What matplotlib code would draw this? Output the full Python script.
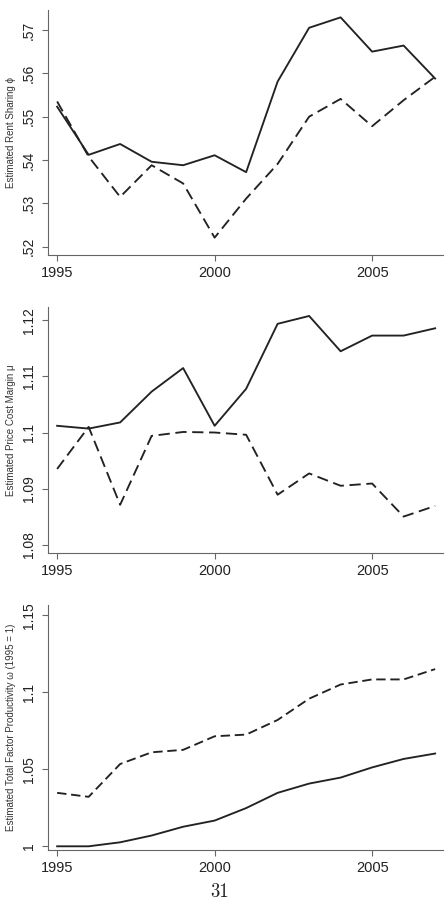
import matplotlib
matplotlib.use("Agg")
import matplotlib.pyplot as plt

years = list(range(1995, 2008))

rent_solid = [0.5523, 0.5412, 0.5437, 0.5396, 0.5388, 0.5411, 0.5372, 0.5581, 0.5705, 0.5729, 0.5650, 0.5664, 0.5588]
rent_dashed = [0.5535, 0.5408, 0.5315, 0.5388, 0.5346, 0.5221, 0.5311, 0.5391, 0.5500, 0.5541, 0.5478, 0.5538, 0.5592]

pcm_solid = [1.1012, 1.1007, 1.1018, 1.1073, 1.1115, 1.1012, 1.1078, 1.1194, 1.1208, 1.1145, 1.1173, 1.1173, 1.1186]
pcm_dashed = [1.0935, 1.1010, 1.0871, 1.0994, 1.1001, 1.1000, 1.0996, 1.0889, 1.0927, 1.0905, 1.0909, 1.0850, 1.0869]

tfp_solid = [1.0000, 1.0000, 1.0026, 1.0070, 1.0127, 1.0167, 1.0248, 1.0347, 1.0407, 1.0446, 1.0512, 1.0567, 1.0602]
tfp_dashed = [1.0347, 1.0321, 1.0534, 1.0610, 1.0626, 1.0714, 1.0725, 1.0820, 1.0958, 1.1050, 1.1083, 1.1083, 1.1150]

xticks = [1995, 2000, 2005]
rent_ticks = [0.52, 0.53, 0.54, 0.55, 0.56, 0.57]
rent_labels = [".52", ".53", ".54", ".55", ".56", ".57"]
pcm_ticks = [1.08, 1.09, 1.10, 1.11, 1.12]
pcm_labels = ["1.08", "1.09", "1.1", "1.11", "1.12"]
tfp_ticks = [1.0, 1.05, 1.10, 1.15]
tfp_labels = ["1", "1.05", "1.1", "1.15"]

ylabels = ["Estimated Rent Sharing \u03d5",
           "Estimated Price Cost Margin \u03bc",
           "Estimated Total Factor Productivity \u03c9 (1995 = 1)"]

plt.rcParams['font.family'] = ['Liberation Sans', 'DejaVu Sans']

W, H = 448, 907
fig = plt.figure(figsize=(W / 100, H / 100), dpi=100)
fig.patch.set_facecolor("white")

def pos(top, bottom, left=48, right=443):
    return [left / W, 1 - bottom / H, (right - left) / W, (bottom - top) / H]

panels = [
    (pos(10, 255), rent_solid, rent_dashed, rent_ticks, rent_labels, (0.5181, 0.5746), ylabels[0], (6, 3)),
    (pos(307, 553), pcm_solid, pcm_dashed, pcm_ticks, pcm_labels, (1.0785, 1.1224), ylabels[1], (6, 3)),
    (pos(605, 850), tfp_solid, tfp_dashed, tfp_ticks, tfp_labels, (0.9976, 1.1566), ylabels[2], (5, 2.5)),
]

for rect, s, d, yt, yl, ylim, lab, dash in panels:
    ax = fig.add_axes(rect)
    ax.plot(years, s, color="#222222", lw=1.35)
    ax.plot(years, d, color="#222222", lw=1.35, dashes=dash)
    ax.set_xlim(1994.71, 2007.25)
    ax.set_ylim(*ylim)
    ax.set_xticks(xticks)
    ax.set_xticklabels([str(x) for x in xticks], fontsize=10.5, color="#222222")
    ax.set_yticks(yt)
    ax.set_yticklabels(yl, fontsize=10, color="#222222", rotation=90, va="center")
    ax.set_ylabel(lab, fontsize=7, color="#333333", labelpad=4)
    for sp in ["top", "right"]:
        ax.spines[sp].set_visible(False)
    for sp in ["left", "bottom"]:
        ax.spines[sp].set_color("#666666")
        ax.spines[sp].set_linewidth(0.8)
    ax.tick_params(axis="x", direction="out", length=4, width=0.8, color="#666666", pad=4)
    ax.tick_params(axis="y", direction="out", length=4, width=0.8, color="#666666", pad=5)

fig.text(220 / W, 1 - 892 / H, "31", fontsize=13.5, family=["cmr10", "DejaVu Serif"], ha="center", va="center", color="#222222")

fig.savefig("out.png", dpi=100, facecolor="white")
